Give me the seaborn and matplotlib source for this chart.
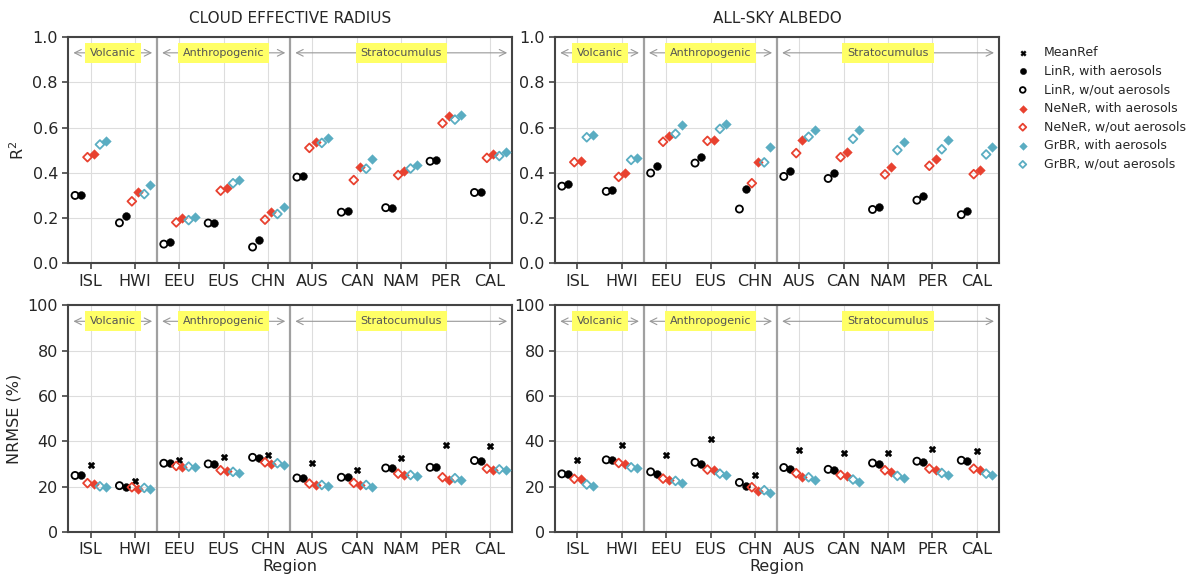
import numpy as np
import pandas as pd
import matplotlib
matplotlib.use('Agg')
import matplotlib.pyplot as plt
import seaborn as sns

sns.set_theme(context='notebook', style='ticks')
plt.rcParams['font.family'] = 'DejaVu Sans'

regions = ['ISL', 'HWI', 'EEU', 'EUS', 'CHN', 'AUS', 'CAN', 'NAM', 'PER', 'CAL']
groups = ['Volcanic', 'Anthropogenic', 'Stratocumulus']
group_sizes = [2, 3, 5]

# R2, cloud effective radius
cer_r2_linr_wo = [0.30, 0.179, 0.085, 0.178, 0.072, 0.381, 0.226, 0.246, 0.451, 0.313]
cer_r2_linr_w = [0.30, 0.209, 0.096, 0.178, 0.103, 0.387, 0.231, 0.246, 0.457, 0.313]
cer_r2_nener_wo = [0.469, 0.274, 0.181, 0.321, 0.193, 0.510, 0.368, 0.390, 0.619, 0.466]
cer_r2_nener_w = [0.484, 0.316, 0.200, 0.332, 0.229, 0.534, 0.425, 0.409, 0.649, 0.484]
cer_r2_grbr_wo = [0.525, 0.306, 0.191, 0.354, 0.218, 0.532, 0.418, 0.419, 0.635, 0.474]
cer_r2_grbr_w = [0.540, 0.347, 0.206, 0.368, 0.250, 0.554, 0.462, 0.434, 0.657, 0.490]

# R2, all-sky albedo
alb_r2_linr_wo = [0.341, 0.318, 0.399, 0.443, 0.240, 0.384, 0.375, 0.238, 0.279, 0.215]
alb_r2_linr_w = [0.349, 0.326, 0.431, 0.468, 0.328, 0.410, 0.400, 0.250, 0.297, 0.231]
alb_r2_nener_wo = [0.447, 0.382, 0.537, 0.541, 0.354, 0.487, 0.469, 0.393, 0.431, 0.394]
alb_r2_nener_w = [0.453, 0.397, 0.563, 0.547, 0.446, 0.543, 0.494, 0.424, 0.460, 0.413]
alb_r2_grbr_wo = [0.557, 0.457, 0.572, 0.594, 0.446, 0.559, 0.550, 0.500, 0.504, 0.481]
alb_r2_grbr_w = [0.569, 0.466, 0.609, 0.616, 0.515, 0.591, 0.587, 0.535, 0.543, 0.515]

# NRMSE (%), cloud effective radius
cer_nrmse_meanref = [29.6, 22.6, 31.9, 32.9, 34.1, 30.3, 27.5, 32.5, 38.5, 37.8]
cer_nrmse_linr_wo = [24.9, 20.4, 30.3, 30.0, 32.9, 23.8, 24.1, 28.2, 28.5, 31.5]
cer_nrmse_linr_w = [24.9, 20.0, 30.3, 30.0, 32.4, 23.8, 24.1, 28.2, 28.5, 31.5]
cer_nrmse_nener_wo = [21.5, 19.7, 29.1, 27.2, 30.7, 21.3, 21.6, 25.7, 24.1, 27.9]
cer_nrmse_nener_w = [21.0, 19.1, 28.7, 26.9, 30.0, 20.6, 20.7, 25.3, 23.1, 27.5]
cer_nrmse_grbr_wo = [20.1, 19.4, 28.8, 26.5, 30.3, 20.7, 20.7, 25.1, 23.7, 27.6]
cer_nrmse_grbr_w = [19.9, 18.7, 28.5, 26.2, 29.6, 20.3, 19.9, 24.6, 22.8, 27.1]

# NRMSE (%), all-sky albedo
alb_nrmse_meanref = [31.6, 38.2, 34.0, 41.2, 25.0, 36.3, 34.9, 34.9, 36.8, 35.7]
alb_nrmse_linr_wo = [25.6, 31.8, 26.5, 30.7, 21.8, 28.4, 27.6, 30.4, 31.2, 31.6]
alb_nrmse_linr_w = [25.4, 31.6, 25.6, 30.0, 20.4, 27.9, 27.1, 30.1, 30.9, 31.2]
alb_nrmse_nener_wo = [23.4, 30.4, 23.5, 27.5, 19.7, 25.9, 25.1, 27.2, 27.9, 27.9]
alb_nrmse_nener_w = [23.2, 30.0, 22.8, 27.4, 18.2, 24.4, 24.7, 26.5, 27.4, 27.5]
alb_nrmse_grbr_wo = [20.9, 28.5, 22.5, 25.7, 18.4, 24.1, 23.1, 24.7, 26.0, 25.7]
alb_nrmse_grbr_w = [20.4, 28.1, 21.5, 25.0, 17.1, 23.1, 22.2, 23.8, 25.0, 24.9]

RED = '#e8412f'
CYAN = '#5aadc2'

# label, offset, marker, color, filled
series_style = [
    ('MeanRef', 0.0, 'X', 'black', True),
    ('LinR, with aerosols', -0.21, 'o', 'black', True),
    ('LinR, w/out aerosols', -0.35, 'o', 'black', False),
    ('NeNeR, with aerosols', 0.07, 'D', RED, True),
    ('NeNeR, w/out aerosols', -0.07, 'D', RED, False),
    ('GrBR, with aerosols', 0.35, 'D', CYAN, True),
    ('GrBR, w/out aerosols', 0.21, 'D', CYAN, False),
]

panels = [
    ('CLOUD EFFECTIVE RADIUS', 'r2',
     [None, cer_r2_linr_w, cer_r2_linr_wo, cer_r2_nener_w, cer_r2_nener_wo, cer_r2_grbr_w, cer_r2_grbr_wo]),
    ('ALL-SKY ALBEDO', 'r2',
     [None, alb_r2_linr_w, alb_r2_linr_wo, alb_r2_nener_w, alb_r2_nener_wo, alb_r2_grbr_w, alb_r2_grbr_wo]),
    ('', 'nrmse',
     [cer_nrmse_meanref, cer_nrmse_linr_w, cer_nrmse_linr_wo, cer_nrmse_nener_w, cer_nrmse_nener_wo,
      cer_nrmse_grbr_w, cer_nrmse_grbr_wo]),
    ('', 'nrmse',
     [alb_nrmse_meanref, alb_nrmse_linr_w, alb_nrmse_linr_wo, alb_nrmse_nener_w, alb_nrmse_nener_wo,
      alb_nrmse_grbr_w, alb_nrmse_grbr_wo]),
]

fig, axes = plt.subplots(2, 2, figsize=(12, 5.87), dpi=100)
fig.subplots_adjust(left=0.057, right=0.8325, top=0.937, bottom=0.094, wspace=0.097, hspace=0.186)

xpos = np.arange(len(regions))
bounds = np.cumsum([0] + group_sizes) - 0.5

for ax, (title, metric, values) in zip(axes.flat, panels):
    for (label, off, marker, color, filled), vals in zip(series_style, values):
        if vals is None:
            # keep the MeanRef entry in the legend
            ax.scatter([], [], marker=marker, color=color, s=22, linewidth=0.5, label=label)
            continue
        df = pd.DataFrame({'x': xpos + off, 'y': vals})
        if filled:
            sns.scatterplot(data=df, x='x', y='y', ax=ax, marker=marker, color=color,
                            s=32 if marker == 'o' else 24, linewidth=0.3, edgecolor=color,
                            label=label, zorder=3)
        else:
            sns.scatterplot(data=df, x='x', y='y', ax=ax, marker=marker, facecolor='none',
                            edgecolor=color, s=26 if marker == 'o' else 20, linewidth=1.3,
                            label=label, zorder=3)

    if metric == 'r2':
        ax.set_ylim(0, 1)
        ax.set_yticks(np.arange(0, 1.01, 0.2))
        ax.set_yticklabels([f'{v:.1f}' for v in np.arange(0, 1.01, 0.2)])
        ya = 0.93
    else:
        ax.set_ylim(0, 100)
        ax.set_yticks(np.arange(0, 101, 20))
        ya = 93
    ax.set_xlim(-0.5, len(regions) - 0.5)
    ax.set_xticks(xpos)
    ax.set_xticklabels(regions)
    ax.grid(lw=0.8, color='#dddddd')
    ax.set_axisbelow(True)
    ax.tick_params(labelsize=11.5, width=1.2, length=4, color='#444444')
    for sp in ax.spines.values():
        sp.set_linewidth(1.5)
        sp.set_color('#444444')

    for b in bounds[1:-1]:
        ax.axvline(b, color='#a0a0a0', lw=1.6, zorder=2)
    for g, lo, hi in zip(groups, bounds[:-1], bounds[1:]):
        ax.annotate('', xy=(lo + 0.05, ya), xytext=(hi - 0.05, ya),
                    arrowprops=dict(arrowstyle='<->', color='#999999', lw=0.8))
        ax.text((lo + hi) / 2, ya, g, ha='center', va='center', fontsize=8, color='#555555',
                bbox=dict(boxstyle='square,pad=0.45', fc='#ffff66', ec='none'))

    ax.set_title(title, fontsize=11, pad=10)
    ax.set_xlabel('')
    ax.set_ylabel('')
    leg = ax.get_legend()
    if leg is not None:
        leg.remove()

axes[0, 0].set_ylabel('R$^2$', fontsize=11.5)
axes[1, 0].set_ylabel('NRMSE (%)', fontsize=11.5)
axes[1, 0].set_xlabel('Region', fontsize=11.5, labelpad=1)
axes[1, 1].set_xlabel('Region', fontsize=11.5, labelpad=1)

handles, labels = axes[1, 1].get_legend_handles_labels()
axes[0, 1].legend(handles, labels, loc='upper left', bbox_to_anchor=(1.0, 1.01), frameon=False,
                  fontsize=9, markerscale=0.8, handletextpad=0.7, labelspacing=0.45)

fig.savefig('out.png', dpi=100)
